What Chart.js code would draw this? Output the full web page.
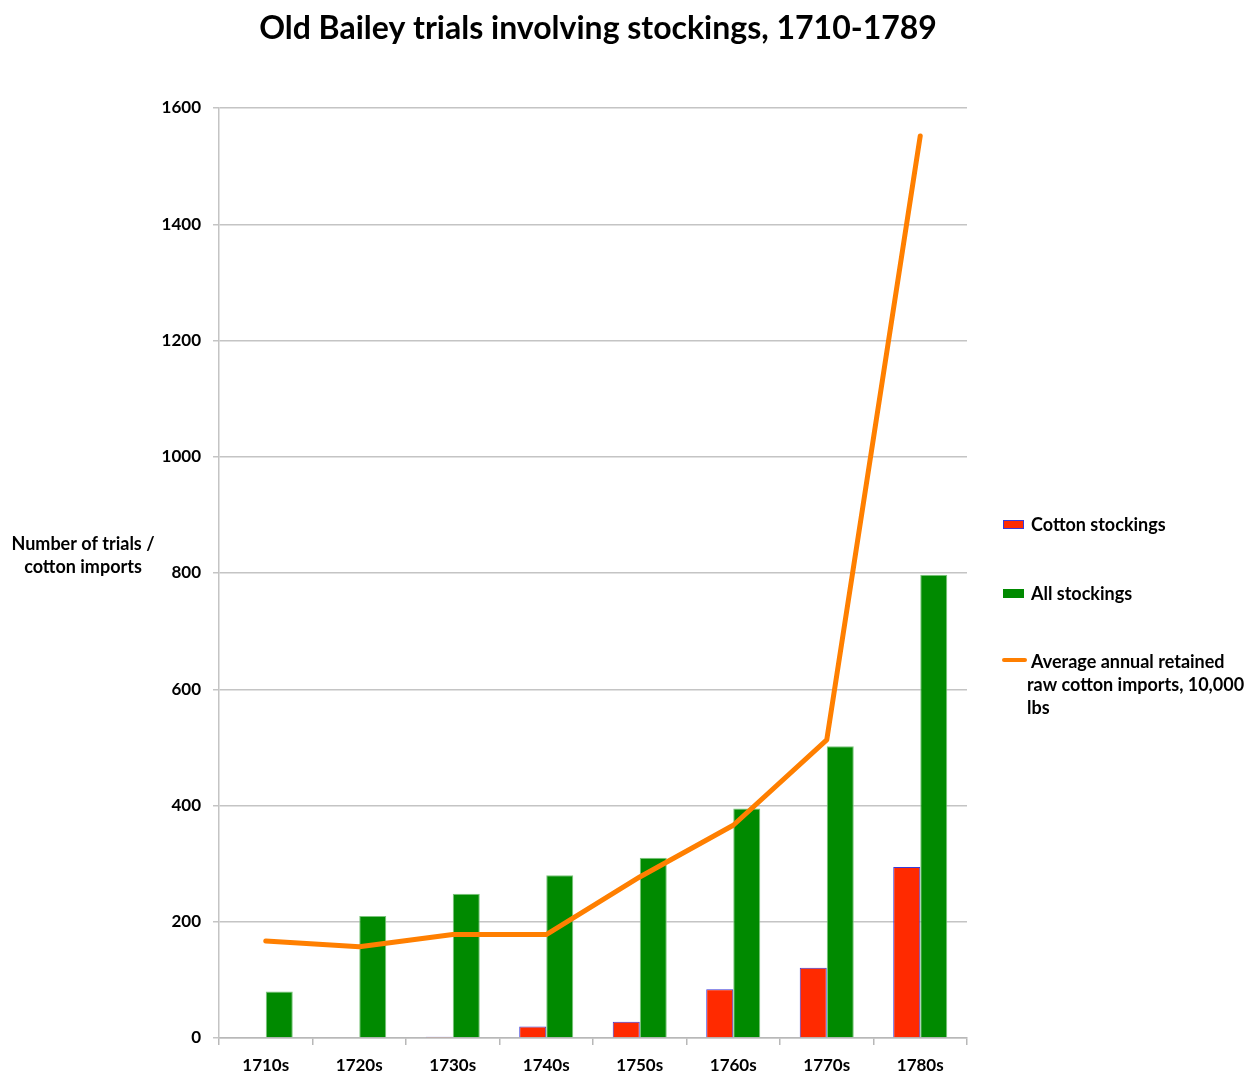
<!DOCTYPE html>
<html>
<head>
<meta charset="utf-8">
<script src="https://cdn.jsdelivr.net/npm/chart.js@4/dist/chart.umd.min.js"></script>
<style>
  html, body { margin: 0; padding: 0; background: #ffffff; }
  #wrap { position: relative; width: 1248px; height: 1073px; }
</style>
</head>
<body>
<div id="wrap"><canvas id="c" width="1248" height="1073"></canvas></div>
<script>
const categories = ['1710s', '1720s', '1730s', '1740s', '1750s', '1760s', '1770s', '1780s'];
const cottonStockings = [0, 0, 2, 20, 28, 84, 121, 294];
const allStockings = [80, 210, 248, 280, 310, 395, 502, 797];
const cottonImports = [167, 157, 178, 178, 277, 366, 513, 1552];
const yTicks = [0, 200, 400, 600, 800, 1000, 1200, 1400, 1600];

const chartTitle = 'Old Bailey trials involving stockings, 1710-1789';
const yTitleLines = ['Number of trials /', 'cotton imports'];
const legendLabels = ['Cotton stockings', 'All stockings'];
const legendLineLabel = ['Average annual retained', 'raw cotton imports, 10,000', 'lbs'];

const FONT = 'Lato, "Open Sans", "DejaVu Sans", sans-serif';

const decorPlugin = {
  id: 'decor',
  afterDraw(chart) {
    const ctx = chart.ctx;
    ctx.save();
    ctx.fillStyle = '#000';
    // Title
    ctx.font = 'bold 32px ' + FONT;
    ctx.textAlign = 'center';
    ctx.textBaseline = 'middle';
    ctx.fillText(chartTitle, 598, 29);
    // Y axis title
    ctx.font = 'bold 18px ' + FONT;
    ctx.fillText(yTitleLines[0], 83, 544);
    ctx.fillText(yTitleLines[1], 83, 567);
    // Legend
    ctx.textAlign = 'left';
    ctx.font = 'bold 18px ' + FONT;
    // red swatch
    ctx.fillStyle = '#ff2a00';
    ctx.fillRect(1003, 520, 21, 9);
    ctx.strokeStyle = '#3a3ad8';
    ctx.lineWidth = 1;
    ctx.strokeRect(1003.5, 520.5, 20, 8);
    ctx.fillStyle = '#000';
    ctx.fillText(legendLabels[0], 1031, 525);
    // green swatch
    ctx.fillStyle = '#008a00';
    ctx.fillRect(1003, 589, 21, 9);
    ctx.fillStyle = '#000';
    ctx.fillText(legendLabels[1], 1031, 594);
    // orange line
    ctx.strokeStyle = '#ff7f00';
    ctx.lineWidth = 4;
    ctx.lineCap = 'round';
    ctx.beginPath();
    ctx.moveTo(1004, 660);
    ctx.lineTo(1025, 660);
    ctx.stroke();
    ctx.fillStyle = '#000';
    ctx.fillText(legendLineLabel[0], 1031, 662);
    ctx.fillText(legendLineLabel[1], 1027, 685);
    ctx.fillText(legendLineLabel[2], 1027, 708);
    ctx.restore();
  }
};

new Chart(document.getElementById('c'), {
  type: 'bar',
  data: {
    labels: categories,
    datasets: [
      {
        type: 'line',
        label: legendLineLabel.join(' '),
        data: cottonImports,
        borderColor: '#ff7f00',
        backgroundColor: '#ff7f00',
        borderWidth: 5,
        pointRadius: 0,
        tension: 0,
        borderCapStyle: 'round',
        borderJoinStyle: 'round',
        order: 0
      },
      {
        label: legendLabels[0],
        data: cottonStockings,
        backgroundColor: '#ff2a00',
        borderColor: '#3a3ad8',
        borderWidth: 1,
        categoryPercentage: 0.578,
        barPercentage: 1.0,
        order: 1
      },
      {
        label: legendLabels[1],
        data: allStockings,
        backgroundColor: '#008a00',
        borderColor: '#7cc47c',
        borderWidth: 1,
        categoryPercentage: 0.578,
        barPercentage: 1.0,
        order: 1
      }
    ]
  },
  options: {
    responsive: false,
    animation: false,
    devicePixelRatio: 1,
    layout: { padding: { left: 0, top: 108, right: 281, bottom: 0 } },
    plugins: {
      legend: { display: false },
      title: { display: false },
      tooltip: { enabled: false }
    },
    scales: {
      x: {
        grid: {
          display: true,
          drawOnChartArea: false,
          drawTicks: true,
          tickLength: 7,
          offset: true,
          color: '#b8b8b8',
          lineWidth: 1.5
        },
        border: { display: true, color: '#b8b8b8', width: 1.5 },
        ticks: {
          color: '#000',
          font: { family: FONT, weight: 'bold', size: 17 },
          padding: 10
        },
        afterFit(scale) { scale.height = 35; }
      },
      y: {
        min: 0,
        max: 1600,
        afterBuildTicks(scale) { scale.ticks = yTicks.map(v => ({ value: v })); },
        grid: {
          color: '#c4c4c4',
          lineWidth: 1.5,
          drawTicks: true,
          tickLength: 6
        },
        border: { display: true, color: '#c4c4c4', width: 1.5 },
        ticks: {
          color: '#000',
          font: { family: FONT, weight: 'bold', size: 17 },
          padding: 12,
          callback: (v) => String(v)
        },
        afterFit(scale) { scale.width = 219; }
      }
    }
  },
  plugins: [decorPlugin]
});
</script>
</body>
</html>
